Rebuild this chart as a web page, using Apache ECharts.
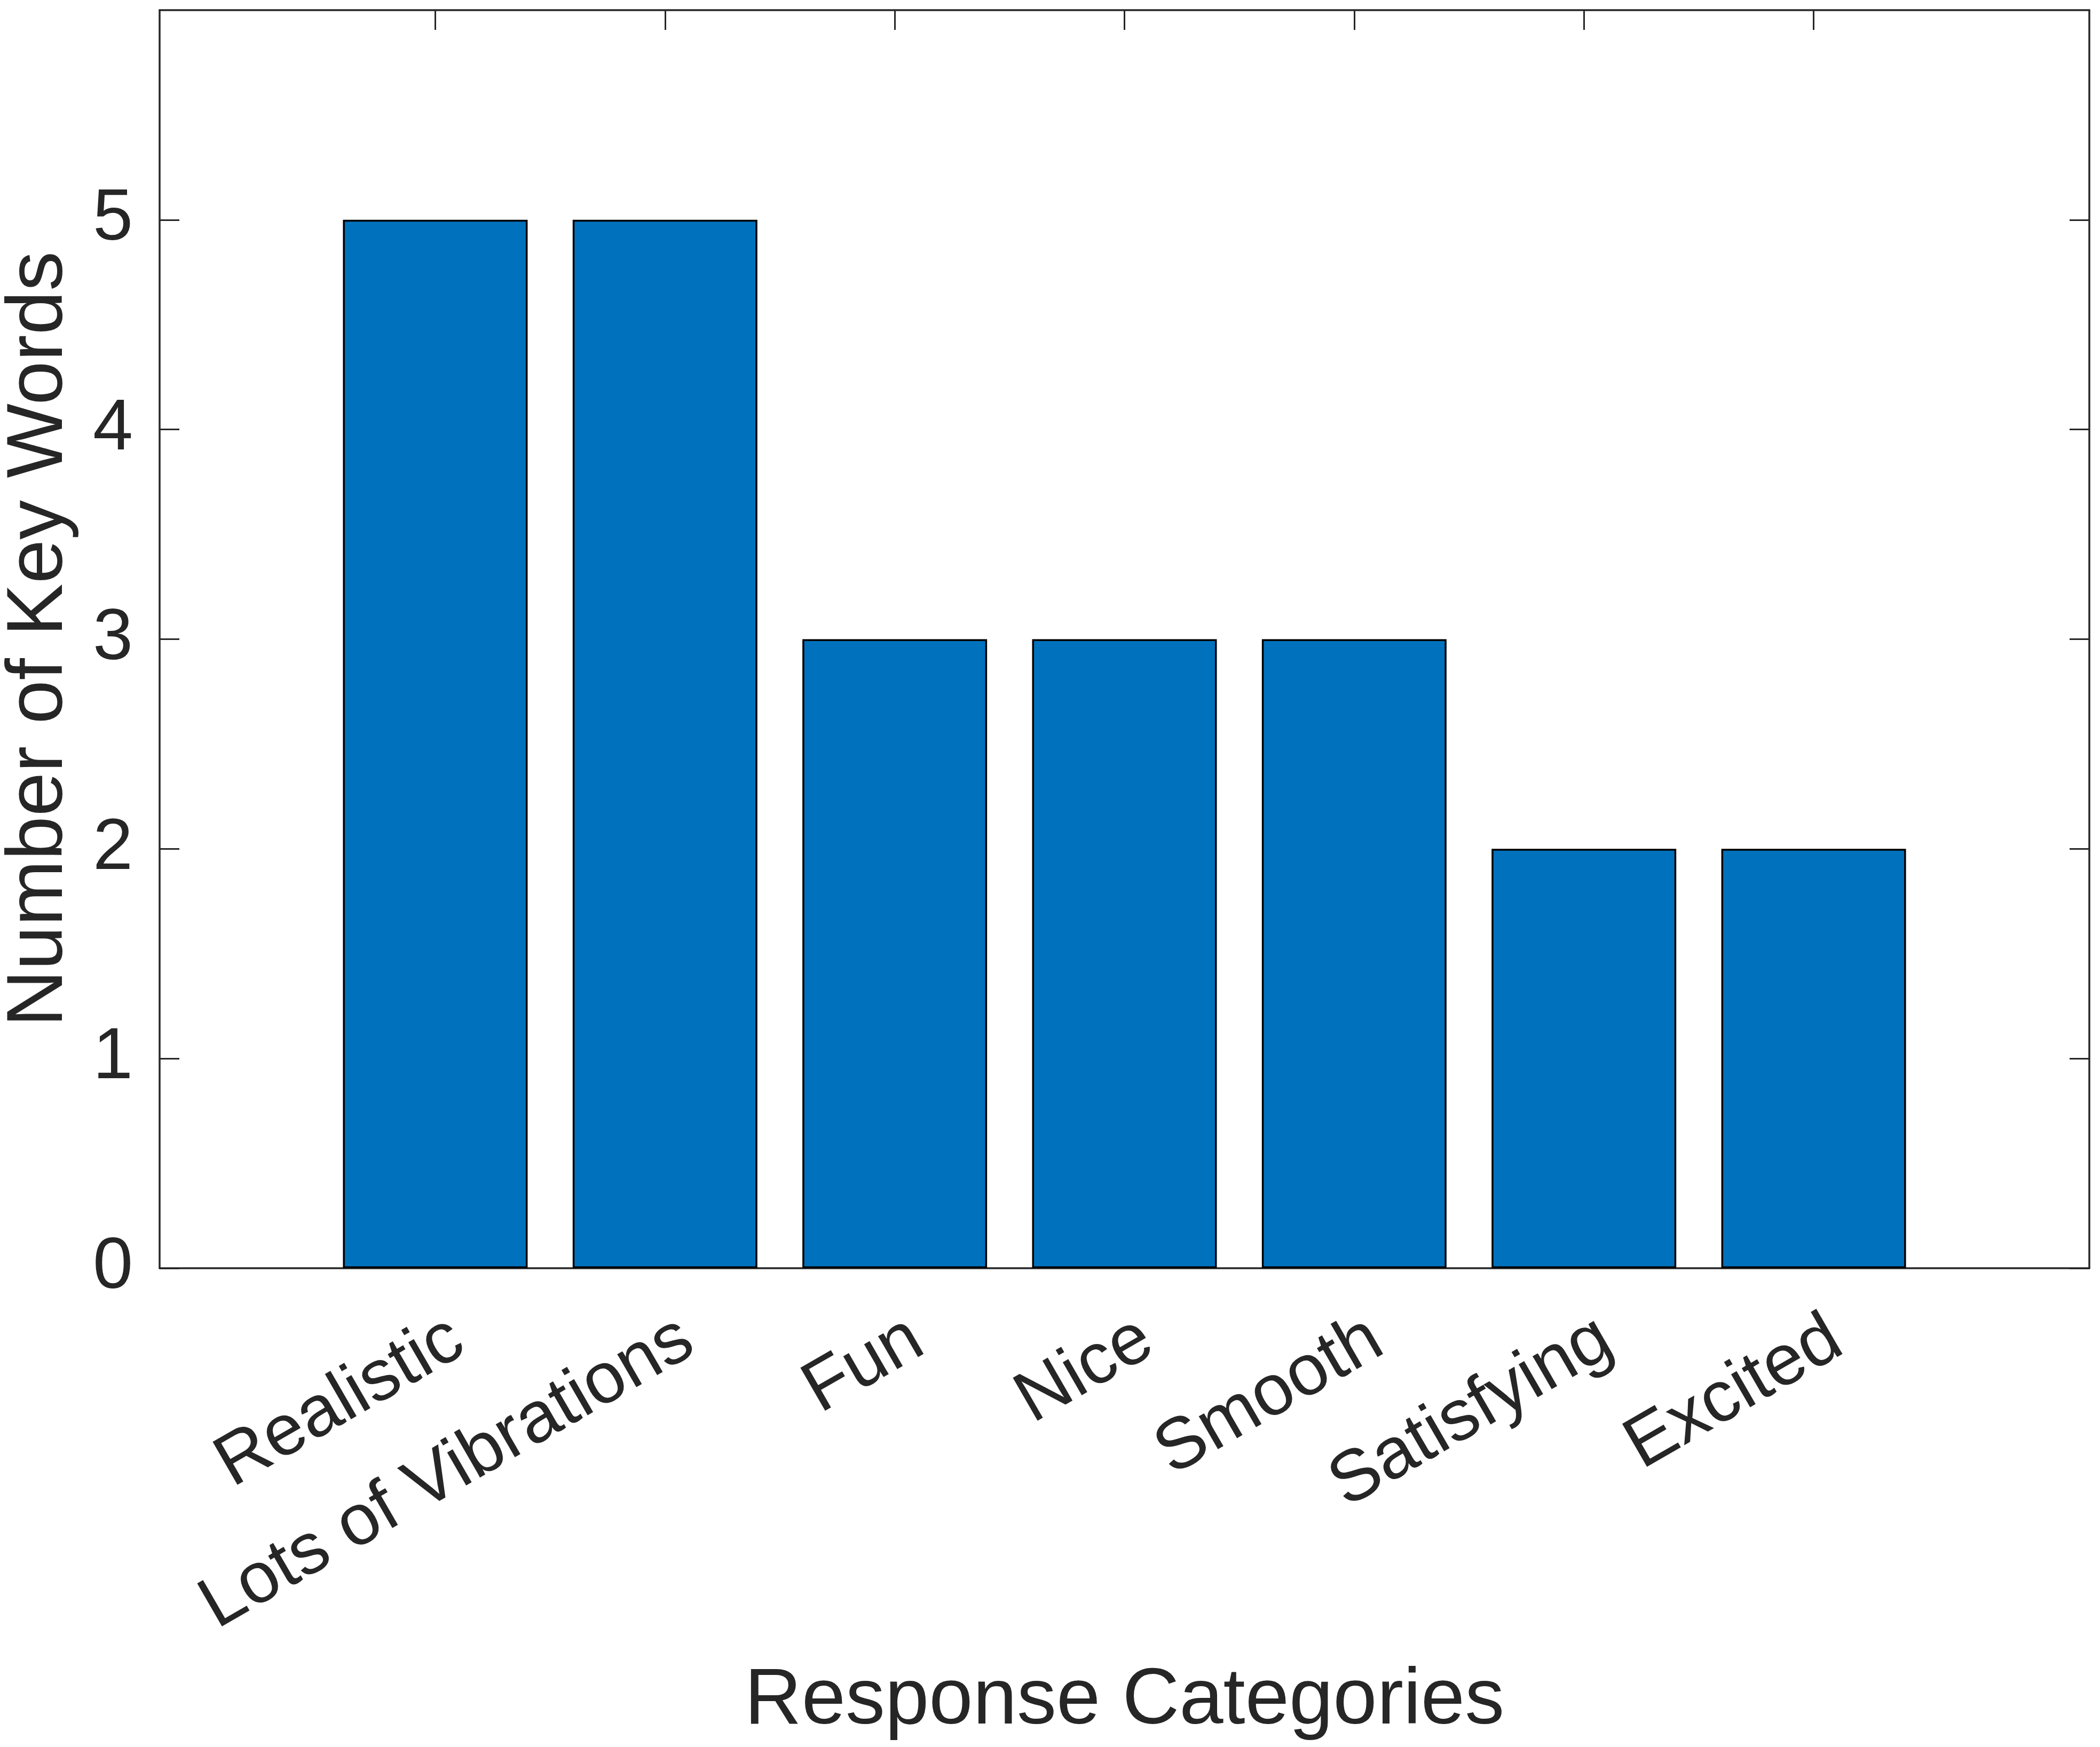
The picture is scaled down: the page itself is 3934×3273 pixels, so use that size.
<!DOCTYPE html>
<html>
<head>
<meta charset="utf-8">
<script src="https://cdn.jsdelivr.net/npm/echarts@6/dist/echarts.min.js"></script>
<style>
html,body{margin:0;padding:0;background:#fff;}
#chart{width:3934px;height:3273px;}
</style>
</head>
<body>
<div id="chart"></div>
<script>
const categories = ['Realistic', 'Lots of Vibrations', 'Fun', 'Nice', 'Smooth', 'Satisfying', 'Excited'];
const counts = [5, 5, 3, 3, 3, 2, 2];
const yTicks = [0, 1, 2, 3, 4, 5];
const xTitle = 'Response Categories';
const yTitle = 'Number of Key Words';

const positions = categories.map((c, i) => i + 1);
const barData = counts.map((v, i) => [positions[i], v]);
// rotated tick labels sit slightly right of their ticks (layout nudge, in axis units)
const LABEL_NUDGE = 0.1;
const labelPositions = positions.map(p => p + LABEL_NUDGE);

const FONT = '"Liberation Sans", Arial, Helvetica, sans-serif';
const INK = '#262626';

const chart = echarts.init(document.getElementById('chart'), null, {renderer: 'canvas'});

const lineStyle = {color: INK, width: 3.5};
const tickStyle = {color: INK, width: 3};

chart.setOption({
  animation: false,
  backgroundColor: '#ffffff',
  grid: {left: 299, right: 20, top: 19, bottom: 897, containLabel: false, outerBoundsMode: 'none'},
  xAxis: [
    {
      type: 'value', min: -0.2, max: 8.2, position: 'bottom',
      splitLine: {show: false},
      axisLine: {show: true, onZero: false, lineStyle: lineStyle},
      axisTick: {show: true, inside: true, length: 37, lineStyle: tickStyle, customValues: positions},
      axisLabel: {
        show: true, rotate: 30, margin: 124, fontSize: 135, fontFamily: FONT, color: INK,
        customValues: labelPositions,
        formatter: function (v) { const i = Math.round(v - LABEL_NUDGE) - 1; return categories[i] || ''; }
      },
      name: xTitle, nameLocation: 'middle', nameGap: 738, nameMoveOverlap: false,
      nameTextStyle: {fontSize: 148, fontFamily: FONT, color: INK}
    },
    {
      type: 'value', min: -0.2, max: 8.2, position: 'top',
      splitLine: {show: false},
      axisLine: {show: true, onZero: false, lineStyle: lineStyle},
      axisTick: {show: true, inside: true, length: 37, lineStyle: tickStyle, customValues: positions},
      axisLabel: {show: false}
    }
  ],
  yAxis: [
    {
      type: 'value', min: 0, max: 6, interval: 1, position: 'left',
      splitLine: {show: false},
      axisLine: {show: true, onZero: false, lineStyle: lineStyle},
      axisTick: {show: true, inside: true, length: 37, lineStyle: tickStyle, customValues: yTicks},
      axisLabel: {
        show: true, margin: 50, fontSize: 135, fontFamily: FONT, color: INK,
        customValues: yTicks,
        formatter: function (v) { return yTicks.indexOf(v) >= 0 ? String(v) : ''; }
      },
      name: yTitle, nameLocation: 'middle', nameGap: 150, nameRotate: 90, nameMoveOverlap: false,
      nameTextStyle: {fontSize: 148, fontFamily: FONT, color: INK}
    },
    {
      type: 'value', min: 0, max: 6, interval: 1, position: 'right',
      splitLine: {show: false},
      axisLine: {show: true, onZero: false, lineStyle: lineStyle},
      axisTick: {show: true, inside: true, length: 37, lineStyle: tickStyle, customValues: yTicks},
      axisLabel: {show: false}
    }
  ],
  series: [
    {
      type: 'bar',
      xAxisIndex: 0, yAxisIndex: 0,
      data: barData,
      barWidth: 346,
      itemStyle: {color: '#0072BD', borderColor: '#000000', borderWidth: 3.5},
      z: 1
    }
  ]
});
</script>
</body>
</html>
